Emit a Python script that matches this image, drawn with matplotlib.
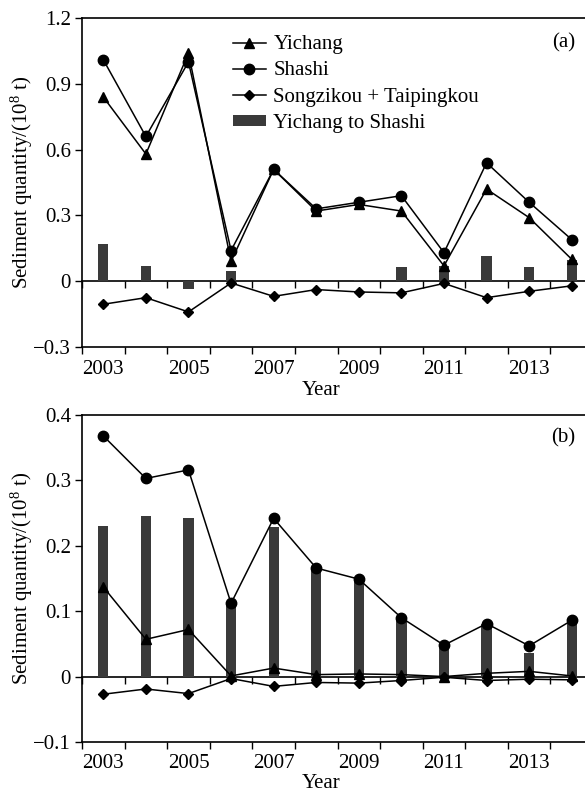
import numpy as np
import matplotlib
matplotlib.use("Agg")
import matplotlib.pyplot as plt

plt.rcParams['font.family'] = ['Liberation Serif', 'DejaVu Serif']
plt.rcParams['mathtext.fontset'] = 'custom'
plt.rcParams['mathtext.rm'] = 'Liberation Serif'
plt.rcParams['mathtext.it'] = 'Liberation Serif:italic'

years = np.arange(2003, 2015)

# (a) annual sediment load, 10^8 t
yichang_a = [0.84, 0.58, 1.04, 0.09, 0.51, 0.32, 0.35, 0.32, 0.07, 0.42, 0.29, 0.10]
shashi_a = [1.01, 0.66, 1.00, 0.14, 0.51, 0.33, 0.36, 0.39, 0.13, 0.54, 0.36, 0.19]
outlets_a = [-0.105, -0.075, -0.14, -0.008, -0.069, -0.038, -0.049, -0.053, -0.01, -0.075, -0.046, -0.021]
reach_a = [0.172, 0.07, -0.034, 0.046, 0.0, 0.005, 0.005, 0.065, 0.07, 0.116, 0.065, 0.099]

# (b) coarse fraction, 10^8 t
yichang_b = [0.137, 0.057, 0.072, 0.001, 0.013, 0.003, 0.004, 0.003, 0.0, 0.005, 0.008, 0.001]
shashi_b = [0.368, 0.303, 0.316, 0.112, 0.242, 0.166, 0.149, 0.090, 0.048, 0.081, 0.047, 0.086]
outlets_b = [-0.027, -0.019, -0.026, -0.003, -0.015, -0.009, -0.01, -0.006, -0.001, -0.006, -0.004, -0.005]
reach_b = [0.230, 0.246, 0.242, 0.110, 0.228, 0.165, 0.148, 0.088, 0.047, 0.080, 0.036, 0.085]

yticks_a = [-0.3, 0, 0.3, 0.6, 0.9, 1.2]
yticks_b = [-0.1, 0, 0.1, 0.2, 0.3, 0.4]
year_labels = [2003, 2005, 2007, 2009, 2011, 2013]

FS = 15
bar_color = '#3a3a3a'


def fmt(v):
    if abs(v) < 1e-9:
        return '0'
    return f'{v:.1f}'.replace('-', '\u2212')


def panel(ax, yi, sh, ou, re, yticks, tag):
    ax.bar(years, re, width=0.24, color=bar_color, zorder=1, label='Yichang to Shashi')
    ax.plot(years, yi, '-^', color='black', lw=1.1, ms=7.5, zorder=3, label='Yichang')
    ax.plot(years, sh, '-o', color='black', lw=1.1, ms=7.5, zorder=3, label='Shashi')
    ax.plot(years, ou, '-D', color='black', lw=1.1, ms=5, zorder=3, label='Songzikou + Taipingkou')

    ax.set_xlim(2002.5, 2014.5)
    ax.set_ylim(yticks[0], yticks[-1])
    ax.set_yticks(yticks)
    ax.set_yticklabels([fmt(v) for v in yticks])

    ax.set_xticks(year_labels)
    ax.set_xticklabels([str(y) for y in year_labels])
    ax.set_xticks(np.arange(2002.5, 2015, 1.0), minor=True)
    ax.tick_params(axis='x', which='major', length=0, pad=9, labelsize=FS)
    ax.tick_params(axis='x', which='minor', length=5, width=1, direction='out')
    ax.tick_params(axis='y', length=5, width=1, direction='out', pad=3, labelsize=FS)
    for s in ax.spines.values():
        s.set_linewidth(1.2)

    # zero line with its own ticks
    zero = ax.secondary_xaxis((0 - yticks[0]) / (yticks[-1] - yticks[0]))
    zero.set_xticks(np.arange(2002.5, 2015, 1.0))
    zero.set_xticklabels([])
    zero.tick_params(axis='x', length=5, width=1, direction='out')
    zero.spines['bottom'].set_linewidth(1.2)
    zero.spines['top'].set_linewidth(1.2)

    ax.set_xlabel('Year', fontsize=FS, va='center')
    ax.set_ylabel('Sediment quantity/(10$^8$ t)', fontsize=FS, va='center')
    ax.yaxis.set_label_coords(-0.117, 0.5)
    ax.text(0.965, 0.925 if tag == '(a)' else 0.93, tag, transform=ax.transAxes,
            ha='right', va='center', fontsize=FS)


fig = plt.figure(figsize=(5.85, 7.95), dpi=100)
ax1 = fig.add_axes([0.1402, 0.5635, 0.8735, 0.4138])
ax2 = fig.add_axes([0.1402, 0.0667, 0.8735, 0.4113])

panel(ax1, yichang_a, shashi_a, outlets_a, reach_a, yticks_a, '(a)')
panel(ax2, yichang_b, shashi_b, outlets_b, reach_b, yticks_b, '(b)')
ax1.xaxis.set_label_coords(0.468, -0.131)
ax2.xaxis.set_label_coords(0.468, -0.128)

ax1.legend(loc='upper left', bbox_to_anchor=(0.295, 0.948), frameon=False,
           fontsize=FS, handlelength=1.6, handletextpad=0.35, labelspacing=0.35,
           handleheight=0.4, borderpad=0, borderaxespad=0)

fig.savefig('out.png', dpi=100)
